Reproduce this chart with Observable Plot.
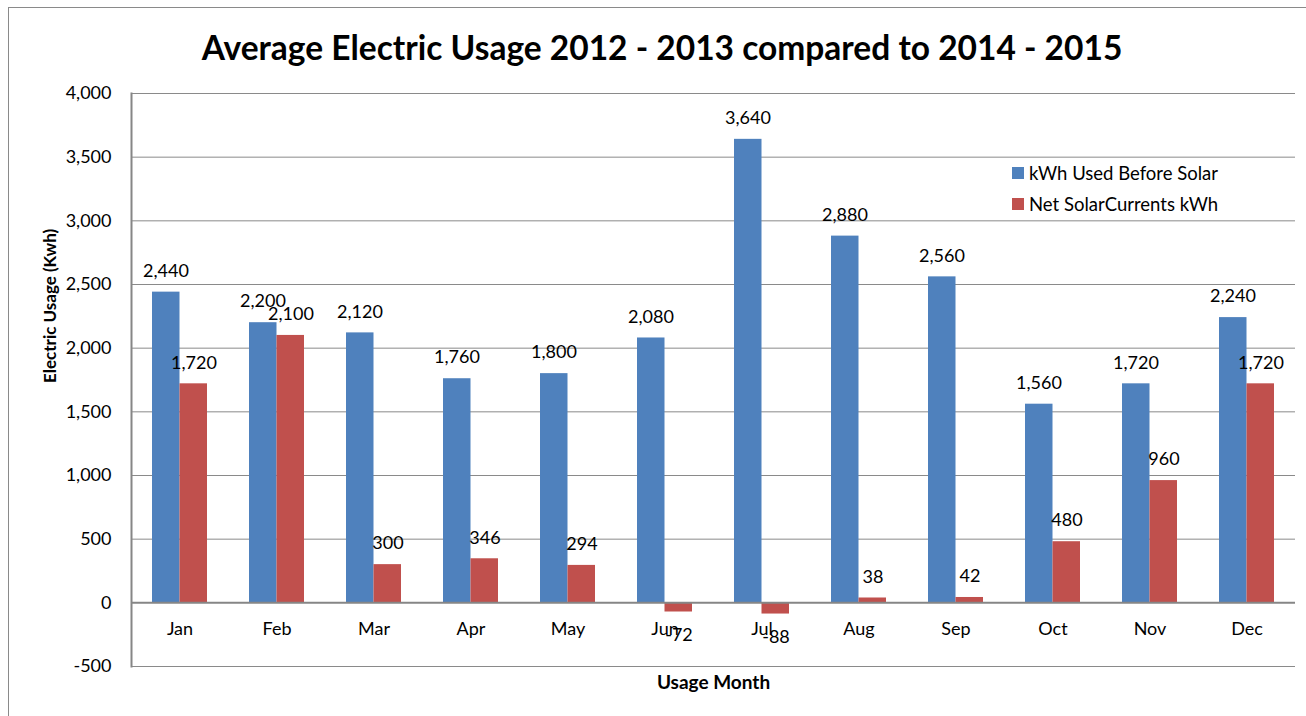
<!DOCTYPE html>
<html>
<head>
<meta charset="utf-8">
<script src="https://cdn.jsdelivr.net/npm/d3@7"></script>
<script src="https://cdn.jsdelivr.net/npm/@observablehq/plot@0.6"></script>
<style>
  html, body { margin: 0; padding: 0; background: #fff; }
  #wrap { position: relative; width: 1306px; height: 716px; overflow: hidden; font-family: Lato, "Open Sans", sans-serif; }
  #border { position: absolute; left: 8px; top: 7px; width: 1400px; height: 800px; border-left: 1px solid #8a8a8a; border-top: 1px solid #8a8a8a; }
  #title { position: absolute; left: 0; top: 26px; width: 1324px; text-align: center; font-weight: bold; font-size: 33.5px; color: #000; line-height: 42px; }
  #chart { position: absolute; left: 0; top: 80px; }
  #legend { position: absolute; left: 1012px; top: 157px; font-size: 18.5px; color: #000; }
  .item { display: flex; align-items: center; height: 31px; }
  .sw { width: 12px; height: 12px; margin-right: 5px; }
</style>
</head>
<body>
<div id="wrap">
  <div id="border"></div>
  <div id="title"></div>
  <div id="chart"></div>
  <div id="legend"></div>
</div>
<script>
const title = "Average Electric Usage 2012 - 2013 compared to 2014 - 2015";
const months = ["Jan","Feb","Mar","Apr","May","Jun","Jul","Aug","Sep","Oct","Nov","Dec"];
const seriesNames = ["kWh Used Before Solar", "Net SolarCurrents kWh"];
const beforeSolar = [2440, 2200, 2120, 1760, 1800, 2080, 3640, 2880, 2560, 1560, 1720, 2240];
const netSolar = [1720, 2100, 300, 346, 294, -72, -88, 38, 42, 480, 960, 1720];
const yTicks = [-500, 0, 500, 1000, 1500, 2000, 2500, 3000, 3500, 4000];
const colors = ["#4F81BD", "#C0504D"];
const yLabel = "Electric Usage (Kwh)";
const xLabel = "Usage Month";

document.getElementById("title").textContent = title;
const legend = document.getElementById("legend");
seriesNames.forEach((n, i) => {
  const it = document.createElement("div"); it.className = "item";
  const sw = document.createElement("div"); sw.className = "sw"; sw.style.background = colors[i];
  const tx = document.createElement("span"); tx.textContent = n;
  it.appendChild(sw); it.appendChild(tx); legend.appendChild(it);
});

const blue = months.map((m, i) => ({month: m, value: beforeSolar[i]}));
const red = months.map((m, i) => ({month: m, value: netSolar[i]}));
const fmt = d3.formatLocale({decimal: ".", thousands: ",", grouping: [3], currency: ["$", ""], minus: "-"}).format(",");
const font = "Lato, 'Open Sans', sans-serif";

const plot = Plot.plot({
  width: 1306,
  height: 636,
  marginTop: 13,
  marginBottom: 50,
  marginLeft: 131,
  marginRight: 11,
  style: {fontFamily: font, fontSize: "18px", color: "#000", background: "transparent"},
  x: {domain: months, padding: 0, axis: null},
  y: {domain: [-500, 4000], axis: null},
  marks: [
    Plot.ruleY(yTicks.filter(t => t !== 0), {stroke: "#8a8a8a", strokeWidth: 1, strokeOpacity: 1}),
    Plot.barY(blue, {x: "month", y: "value", fill: colors[0], insetLeft: 21, insetRight: 48.5}),
    Plot.barY(red, {x: "month", y: "value", fill: colors[1], insetLeft: 48.5, insetRight: 21}),
    Plot.ruleY([0], {stroke: "#868686", strokeWidth: 2}),
    Plot.frame({anchor: "left", stroke: "#868686", strokeWidth: 2}),
    Plot.axisY({ticks: yTicks, tickFormat: fmt, tickSize: 0, tickPadding: 20, fontSize: 18, label: null}),
    Plot.text(months, {x: d => d, y: 0, dy: 26, text: d => d, fontSize: 18, fill: "#000"}),
    Plot.text(blue, {x: "month", y: "value", dx: -14, dy: -21, text: d => fmt(d.value), fontSize: 18, fill: "#000"}),
    Plot.text(red.filter(d => d.value >= 0), {x: "month", y: "value", dx: 14, dy: -21, text: d => fmt(d.value), fontSize: 18, fill: "#000"}),
    Plot.text(red.filter(d => d.value < 0), {x: "month", y: "value", dx: 14, dy: 23, text: d => fmt(d.value), fontSize: 18, fill: "#000"}),
    Plot.text([yLabel], {frameAnchor: "left", rotate: -90, dx: -81, dy: 3, text: d => d, fontSize: 17, fontWeight: "bold", fill: "#000"}),
    Plot.text([xLabel], {frameAnchor: "bottom", dy: 22, text: d => d, fontSize: 19, fontWeight: "bold", fill: "#000"})
  ]
});
document.getElementById("chart").appendChild(plot);
</script>
</body>
</html>
